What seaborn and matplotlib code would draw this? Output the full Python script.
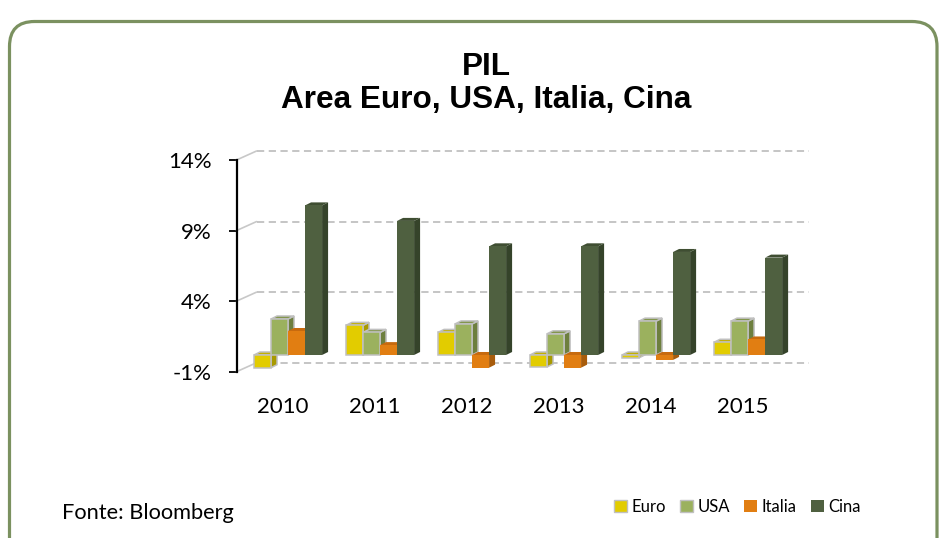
import numpy as np
import pandas as pd
import matplotlib.pyplot as plt
import seaborn as sns
from matplotlib.patches import Polygon, FancyBboxPatch, Patch
from matplotlib.lines import Line2D
from matplotlib.transforms import ScaledTranslation, IdentityTransform

# ============================================================
# DATI
# ============================================================
anni = ['2010', '2011', '2012', '2013', '2014', '2015']
paesi = ['Euro', 'USA', 'Italia', 'Cina']
euro = [-0.9, 2.1, 1.6, -0.85, -0.2, 0.9]
usa = [2.55, 1.6, 2.2, 1.5, 2.4, 2.4]
italia = [1.7, 0.7, -0.9, -0.9, -0.35, 1.1]
cina = [10.6, 9.5, 7.7, 7.7, 7.3, 6.9]
yticks = [-1, 4, 9, 14]
ytick_labels = ['-1%', '4%', '9%', '14%']

colori = ['#e2cc00', '#9bb15e', '#e17e12', '#4f6040']
lati = ['#a89a00', '#6d7f3e', '#a85c0c', '#35432a']
tetti = ['#c2b000', '#83964d', '#c76a0e', '#3f4e32']
bordi = ['#c0c0c0', '#c0c0c0', 'none', 'none']

df = pd.DataFrame({
    'anno': anni * 4,
    'paese': [p for p in paesi for _ in anni],
    'pil': euro + usa + italia + cina,
})

# ============================================================
# FIGURA
# ============================================================
sns.set_style('white')
plt.rcParams['font.family'] = ['Lato', 'DejaVu Sans']
plt.rcParams['text.color'] = 'black'
plt.rcParams['xtick.color'] = 'black'
plt.rcParams['ytick.color'] = 'black'

fig = plt.figure(figsize=(9.39, 5.38), dpi=100)
ax = fig.add_axes([0.2519, 0.3091, 0.5879, 0.3935])
ax.set_facecolor('none')

sns.barplot(data=df, x='anno', y='pil', hue='paese', hue_order=paesi,
            palette=colori, saturation=1, width=0.74, legend=False, ax=ax,
            errorbar=None)

ax.set_xlim(-0.5, 5.5)
ax.set_ylim(-1, 14)
ax.set_yticks(yticks)
ax.set_yticklabels(ytick_labels)
ax.set_xlabel('')
ax.set_ylabel('')
ax.tick_params(axis='y', direction='out', length=6, width=1.3, colors='black',
               pad=12, labelsize=16, left=True)
ax.tick_params(axis='x', length=0, pad=18, labelsize=16, colors='black')
for s in ['top', 'right', 'bottom']:
    ax.spines[s].set_visible(False)
ax.spines['left'].set_color('black')
ax.spines['left'].set_linewidth(1.6)

# ============================================================
# EFFETTO 3D
# ============================================================
off = ScaledTranslation(5.5 / 100, 2.6 / 100, fig.dpi_scale_trans)
dx, dy = 6, 3

bars = []
for i, cont in enumerate(ax.containers):
    for p in cont.patches:
        bars.append((p, i))
bars.sort(key=lambda b: b[0].get_x())

trf = ax.transData + off
for k, (p, i) in enumerate(bars):
    zo = 3 + k * 0.01
    lw = 1.1 if bordi[i] != 'none' else 0
    p.set_transform(trf)
    p.set_edgecolor(bordi[i])
    p.set_linewidth(lw)
    p.set_zorder(zo + 0.002)
    p.set_clip_on(False)
    y_lo = min(p.get_y(), p.get_y() + p.get_height())
    y_hi = max(p.get_y(), p.get_y() + p.get_height())
    x0, y0 = trf.transform((p.get_x(), y_lo))
    x1, y1 = trf.transform((p.get_x() + p.get_width(), y_hi))
    side = Polygon([(x1, y0), (x1 + dx, y0 + dy), (x1 + dx, y1 + dy), (x1, y1)],
                   closed=True, facecolor=lati[i], edgecolor=bordi[i], linewidth=lw,
                   transform=IdentityTransform(), zorder=zo, clip_on=False)
    top = Polygon([(x0, y1), (x1, y1), (x1 + dx, y1 + dy), (x0 + dx, y1 + dy)],
                  closed=True, facecolor=tetti[i], edgecolor=bordi[i], linewidth=lw,
                  transform=IdentityTransform(), zorder=zo + 0.001, clip_on=False)
    ax.add_artist(side)
    ax.add_artist(top)

# griglia sulla parete di fondo
for v in yticks:
    fx, fy = ax.transData.transform((-0.5, v))
    rx, _ = ax.transData.transform((5.5, v))
    ax.add_artist(Line2D([fx, fx + 20], [fy, fy + 9], color='#c8c8c8', lw=1.2,
                         transform=IdentityTransform(), zorder=1, clip_on=False))
    ax.add_artist(Line2D([fx + 20, rx + 20], [fy + 9, fy + 9], color='#c0c0c0',
                         lw=1.3, linestyle=(0, (4, 2.5)),
                         transform=IdentityTransform(), zorder=1, clip_on=False))

# ============================================================
# TESTI
# ============================================================
fig.text(486.5 / 939, 1 - 75 / 538, 'PIL', ha='center', va='baseline',
         fontsize=22.7, fontweight='bold', family='Liberation Sans')
fig.text(486.5 / 939, 1 - 108 / 538, 'Area Euro, USA, Italia, Cina', ha='center',
         va='baseline', fontsize=22.7, fontweight='bold', family='Liberation Sans')
fig.text(62 / 939, 1 - 519 / 538, 'Fonte: Bloomberg', ha='left', va='baseline',
         fontsize=15.7)

handles = [Patch(facecolor=colori[i], edgecolor=bordi[i],
                 linewidth=1.0 if bordi[i] != 'none' else 0) for i in range(4)]
fig.legend(handles, paesi, loc='center left',
           bbox_to_anchor=(614 / 939, 1 - 507 / 538), ncol=4, frameon=False,
           fontsize=12, handlelength=0.75, handleheight=0.75, handletextpad=0.3,
           columnspacing=0.85, borderpad=0, borderaxespad=0)

# cornice arrotondata
fig.add_artist(FancyBboxPatch((9.5, -40), 927.5, 538 - 12 + 40 - 9.5,
                              boxstyle='round,pad=0,rounding_size=25',
                              facecolor='none', edgecolor='#7b9160', linewidth=2.3,
                              transform=IdentityTransform(), zorder=0))

fig.savefig('out.png', dpi=100)
